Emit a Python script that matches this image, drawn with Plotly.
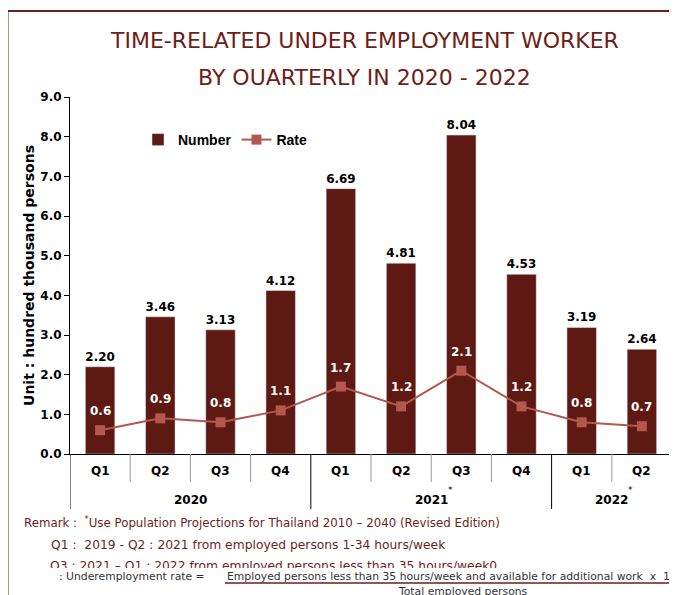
import plotly.graph_objects as go

quarters = ["Q1", "Q2", "Q3", "Q4", "Q1", "Q2", "Q3", "Q4", "Q1", "Q2"]
years = ["2020", "2021", "2022"]
year_sizes = [4, 4, 2]
year_marks = ["", "*", "*"]
number = [2.20, 3.46, 3.13, 4.12, 6.69, 4.81, 8.04, 4.53, 3.19, 2.64]
rate = [0.6, 0.9, 0.8, 1.1, 1.7, 1.2, 2.1, 1.2, 0.8, 0.7]
y_ticks = [0, 1, 2, 3, 4, 5, 6, 7, 8, 9]

BAR = "#5e1913"
LINE = "#b4574f"
RED = "#6e1e18"
OFF = 8  # page body margin
W, H = 677 - OFF, 595 - OFF
L, R, T, B = 70 - OFF, 5, 97 - OFF, 595 - 454
pw = W - L - R
ph = H - T - B

def px(tx):
    return (tx - OFF - L) / pw

def py(ty):
    return (H - B - (ty - OFF)) / ph

xs = list(range(len(quarters)))
fig = go.Figure()
fig.add_trace(go.Bar(
    x=xs, y=number, name="Number", marker_color=BAR, width=0.49,
    text=[f"{v:.2f}" for v in number], textposition="outside",
    textfont=dict(family="DejaVu Sans", size=12, color="black", weight="bold"),
    cliponaxis=False,
))
fig.add_trace(go.Scatter(
    x=xs, y=rate, name="Rate", mode="lines+markers",
    line=dict(color=LINE, width=2),
    marker=dict(symbol="square", size=10, color=LINE),
))
for x, r in zip(xs, rate):
    fig.add_annotation(x=x, y=r, yshift=19, text=f"{r:.1f}", showarrow=False, yanchor="middle",
                       font=dict(family="DejaVu Sans", size=12, color="white", weight="bold"))

shapes = []
y_q = py(482)
y_y = py(509)
starts = []
s = 0
for n in year_sizes:
    starts.append(s)
    s += n
bounds = [st - 0.5 for st in starts] + [len(quarters) - 0.5]
for i in range(len(quarters) - 1):
    xb = i + 0.5
    if xb in bounds:
        continue
    shapes.append(dict(type="line", xref="x", yref="paper", x0=xb, x1=xb, y0=0, y1=y_q,
                       line=dict(color="#999999", width=1)))
for xb in bounds:
    shapes.append(dict(type="line", xref="x", yref="paper", x0=xb, x1=xb, y0=0, y1=y_y,
                       line=dict(color="black", width=1)))
for i, q in enumerate(quarters):
    fig.add_annotation(x=i, y=py(471), xref="x", yref="paper", text=q, showarrow=False,
                       yanchor="middle",
                       font=dict(family="DejaVu Sans", size=12, color="black", weight="bold"))
for st, n, yv, mk in zip(starts, year_sizes, years, year_marks):
    c = st + (n - 1) / 2
    fig.add_annotation(x=c, y=py(500), xref="x", yref="paper", text=yv, showarrow=False,
                       yanchor="middle",
                       font=dict(family="DejaVu Sans", size=12, color="black", weight="bold"))
    if mk:
        fig.add_annotation(x=c, xshift=19, y=py(490), xref="x", yref="paper", text=mk,
                           showarrow=False, yanchor="middle",
                           font=dict(family="DejaVu Sans", size=9, color="black"))

# border lines
shapes.append(dict(type="line", xref="paper", yref="paper", x0=px(7), x1=px(690),
                   y0=py(11), y1=py(11), line=dict(color=RED, width=2)))
shapes.append(dict(type="line", xref="paper", yref="paper", x0=px(7.5), x1=px(7.5),
                   y0=py(11), y1=py(610), line=dict(color=RED, width=2)))
# underline of formula
shapes.append(dict(type="line", xref="paper", yref="paper", x0=px(225), x1=px(675),
                   y0=py(583), y1=py(583), line=dict(color=RED, width=1.5)))
fig.update_layout(shapes=shapes)

def pa(text, tx, ty, size, color, xanchor="left", family="DejaVu Sans", **kw):
    fig.add_annotation(xref="paper", yref="paper", x=px(tx), y=py(ty),
                       text=text, showarrow=False, xanchor=xanchor,
                       yanchor=kw.pop("yanchor", "middle"),
                       font=dict(family=family, size=size, color=color), **kw)

pa("TIME-RELATED UNDER EMPLOYMENT WORKER", 364, 41, 22, RED, "center")
pa("BY OUARTERLY IN 2020 - 2022", 364, 77, 22, RED, "center")
pa("Remark :  <sup>*</sup>Use Population Projections for Thailand 2010 – 2040 (Revised Edition)",
   22, 522, 11.8, RED)
pa("Q1 :  2019 - Q2 : 2021 from employed persons 1-34 hours/week", 49, 545, 12.3, RED)
pa("Q3 : 2021 – Q1 : 2022 from employed persons less than 35 hours/week0", 49, 558, 12.3, RED,
   yanchor="top", height=9, valign="top", borderpad=0)
pa(": Underemployment rate =", 57, 576, 10.8, "#333333")
pa("Employed persons less than 35 hours/week and available for additional work  x  100",
   225, 576, 10.8, "#333333")
pa("Total employed persons", 463, 591, 10.8, "#333333", "center")

fig.update_layout(
    width=W, height=H, margin=dict(l=L, r=R, t=T, b=B),
    plot_bgcolor="white", paper_bgcolor="white",
    showlegend=True,
    legend=dict(orientation="h", x=px(138), y=py(124), xanchor="left", yanchor="top",
                font=dict(family="Liberation Sans", size=14, color="black", weight="bold"),
                bgcolor="rgba(0,0,0,0)", itemwidth=30),
    xaxis=dict(range=[-0.5, len(quarters) - 0.5], showticklabels=False, showgrid=False,
               zeroline=False, showline=True, linecolor="black", linewidth=1, ticks=""),
    yaxis=dict(range=[0, 9], tickvals=y_ticks, ticktext=[f"{v:.1f}" for v in y_ticks],
               showgrid=False, zeroline=False, showline=True, linecolor="black", linewidth=1,
               ticks="outside", ticklen=5, tickcolor="black",
               tickfont=dict(family="DejaVu Sans", size=12, color="black", weight="bold"),
               title=dict(text="Unit : hundred thousand persons", standoff=2,
                          font=dict(family="DejaVu Sans", size=14, color="black", weight="bold"))),
)
fig.write_html("out.html")
